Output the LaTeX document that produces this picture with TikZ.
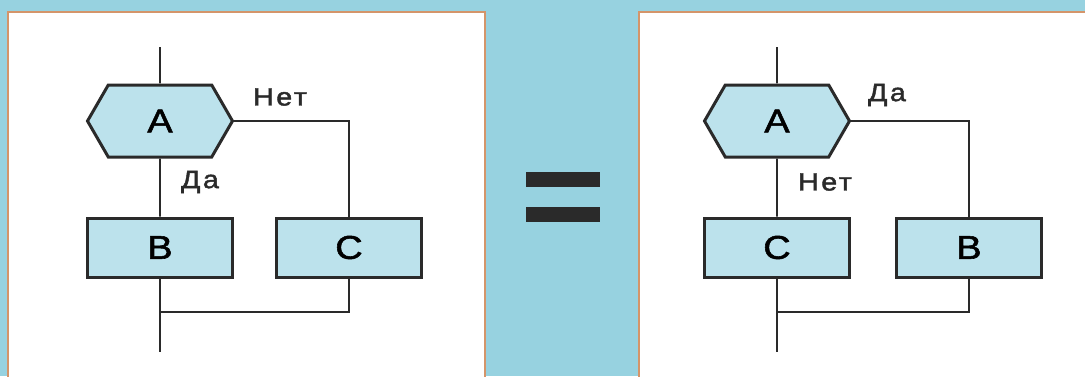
\documentclass[tikz,border=0pt]{standalone}
\usepackage{fontspec}
\setmainfont{Liberation Sans}[FakeStretch=1.15, FakeBold=1.7]
\usepackage{xcolor}
\usepackage{tikz}
\usetikzlibrary{positioning, shapes.symbols}

\definecolor{bgblue}{HTML}{97D2E0}
\definecolor{boxblue}{HTML}{BCE2EC}
\definecolor{edge}{HTML}{D4956A}
\definecolor{ink}{HTML}{2A2A2A}

\begin{document}
\begin{tikzpicture}[
  x=1pt, y=-1pt,
  font=\fontsize{33}{35}\selectfont,
  cond/.style={draw=ink, line width=3pt, fill=boxblue, signal,
               signal to=east and west, signal pointer angle=120,
               minimum width=145pt, minimum height=72pt, inner sep=0pt},
  act/.style={draw=ink, line width=3pt, fill=boxblue,
              minimum width=145pt, minimum height=59pt, inner sep=0pt},
  lbl/.style={font=\fontsize{25}{27}\selectfont\addfontfeature{LetterSpace=10},
              text=ink},
  wire/.style={draw=ink, line width=1.8pt},
  panel/.style={fill=white, draw=edge, line width=2pt}
]
\useasboundingbox (0,0) rectangle (1085,376);
\fill[bgblue] (0,0) rectangle (1085,376);
\draw[panel] (8,12) rectangle (485,390);
\draw[panel] (639,12) rectangle (1100,390);

% left: if A then B else C
\coordinate (in1) at (160,47);
\coordinate (out1) at (160,352);
\coordinate (join1) at (160,312);
\node[cond] (a1) at (160,121) {A};
\node[act] (b1) at (160,247.5) {B};
\node[act] (c1) at (349,247.5) {C};
\node[lbl] (no1) at (280,97) {Нет};
\node[lbl] (yes1) at (200,182) {Да};
\draw[wire] (in1) -- (a1);
\draw[wire] (a1) -- (b1);
\draw[wire] (a1.east) -| (c1.north);
\draw[wire] (b1) -- (out1);
\draw[wire] (c1.south) |- (join1);

% equals sign
\fill[ink] (526,172) rectangle (600,187);
\fill[ink] (526,207) rectangle (600,222);

% right: if not A then C else B
\coordinate (in2) at (777,47);
\coordinate (out2) at (777,352);
\coordinate (join2) at (777,312);
\node[cond] (a2) at (777,121) {A};
\node[act] (c2) at (777,247.5) {C};
\node[act] (b2) at (969,247.5) {B};
\node[lbl] (yes2) at (887,95) {Да};
\node[lbl] (no2) at (825,182) {Нет};
\draw[wire] (in2) -- (a2);
\draw[wire] (a2) -- (c2);
\draw[wire] (a2.east) -| (b2.north);
\draw[wire] (c2) -- (out2);
\draw[wire] (b2.south) |- (join2);
\end{tikzpicture}
\end{document}
